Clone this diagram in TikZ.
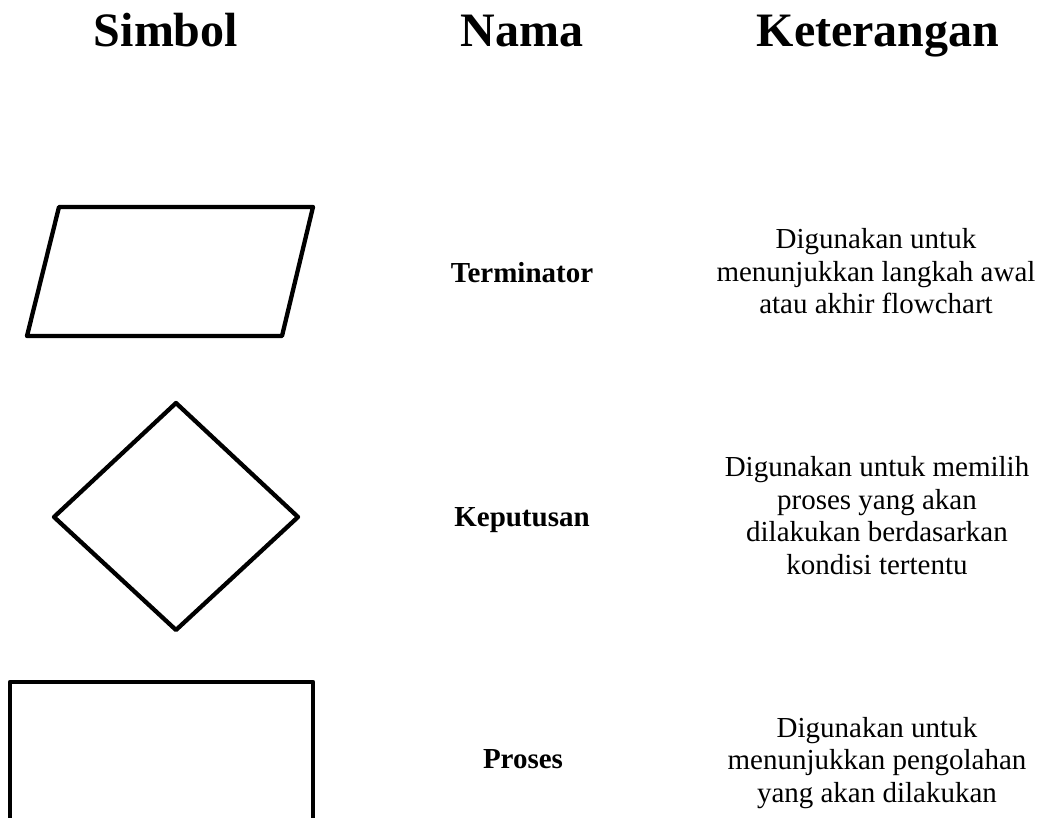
\documentclass[tikz,border=0pt]{standalone}
\usepackage{fontspec}
\setmainfont{Liberation Serif}
\usetikzlibrary{positioning}

\begin{document}
\begin{tikzpicture}[
  x=1pt,y=-1pt,
  symbol/.style={draw=black,line width=4.3pt,line join=round},
  headtext/.style={anchor=base,font=\bfseries\fontsize{48}{54}\selectfont},
  symname/.style={anchor=base,font=\bfseries\fontsize{29}{33}\selectfont},
  desctext/.style={anchor=base,align=center,font=\fontsize{29}{32.5}\selectfont}
]

\useasboundingbox (0,0) rectangle (1050,818);
\clip (0,0) rectangle (1050,818);

% column headings
\node[headtext] (hsym) at (166,47) {Simbol};
\node[headtext] (hname) at (522,47) {Nama};
\node[headtext] (hdesc) at (878,47) {Keterangan};

% symbols
\draw[symbol] (59,207) -- (313,207) -- (282,336) -- (27,336) -- cycle;
\draw[symbol] (176,403) -- (298,517) -- (176,630) -- (54,517) -- cycle;
\draw[symbol] (10,840) -- (10,682) -- (313,682) -- (313,840);

% names
\node[symname] (term) at (522,283) {Terminator};
\node[symname] (kep) at (522,526) {Keputusan};
\node[symname] (pros) at (523,768) {Proses};

% descriptions (base = last line)
\node[desctext] (dterm) at (876,314)
  {Digunakan untuk\\menunjukkan langkah awal\\atau akhir flowchart};
\node[desctext] (dkep) at (877,574)
  {Digunakan untuk memilih\\proses yang akan\\dilakukan berdasarkan\\kondisi tertentu};
\node[desctext] (dpros) at (877,802)
  {Digunakan untuk\\menunjukkan pengolahan\\yang akan dilakukan};

\end{tikzpicture}
\end{document}
